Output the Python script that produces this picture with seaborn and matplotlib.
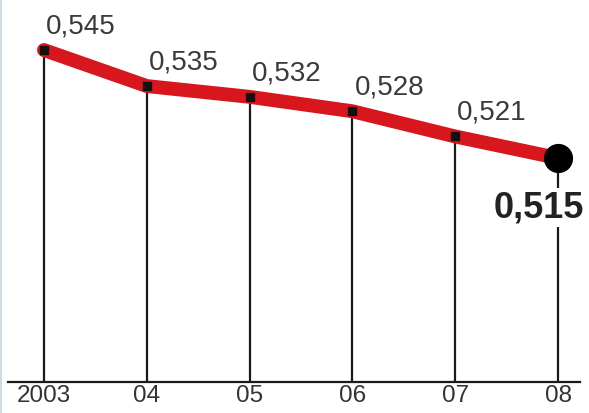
import matplotlib
matplotlib.use("Agg")
import matplotlib.pyplot as plt
import seaborn as sns
import pandas as pd
from matplotlib.lines import Line2D

years = [2003, 2004, 2005, 2006, 2007, 2008]
tick_labels = ["2003", "04", "05", "06", "07", "08"]
values = [0.545, 0.535, 0.532, 0.528, 0.521, 0.515]
value_labels = ["0,545", "0,535", "0,532", "0,528", "0,521", "0,515"]

red = "#d8161d"

sns.set_theme(style="white")
plt.rcParams['font.family'] = ['Liberation Sans', 'DejaVu Sans']

df = pd.DataFrame({"year": years, "value": values})

fig = plt.figure(figsize=(5.89, 4.13), dpi=100)
ax = fig.add_axes([8 / 589, 31 / 413, 572 / 589, 382 / 413])

ybottom = 0.4528
ax.set_xlim(2002.65, 2008.214)
ax.set_ylim(ybottom, 0.5589)

# stems down to the baseline
ax.vlines(years, ybottom, values, color="#1a1a1a", lw=1.6, zorder=1)

sns.lineplot(data=df, x="year", y="value", ax=ax, color=red, lw=10,
             solid_capstyle="round", zorder=2)

# small squares on all but the last point, a big dot on the last
ax.plot(years[:-1], values[:-1], ls="none", marker="s", ms=6,
        color="#111111", zorder=3)
ax.plot(years[-1:], values[-1:], ls="none", marker="o", ms=20,
        color="#000000", zorder=4)

for x, y, lab in zip(years[:-1], values[:-1], value_labels[:-1]):
    ax.annotate(lab, (x, y), xytext=(1.5, 12), textcoords="offset points",
                ha="left", va="baseline", fontsize=20, color="#3a3a3a",
                zorder=5)

ax.annotate(value_labels[-1], (years[-1], values[-1]), xytext=(-13.5, -42.5),
            textcoords="offset points", ha="center", va="baseline",
            fontsize=26, fontweight="bold", color="#222222", zorder=5,
            bbox=dict(boxstyle="square,pad=0.05", fc="white", ec="none"))

ax.set_xticks(years)
ax.set_xticklabels(tick_labels, fontsize=17.5, color="#333333")
ax.set_yticks([])
ax.tick_params(axis="x", length=0, pad=2)
ax.set_xlabel("")
ax.set_ylabel("")

for side in ["top", "left", "right"]:
    ax.spines[side].set_visible(False)
ax.spines["bottom"].set_color("#1a1a1a")
ax.spines["bottom"].set_linewidth(1.6)

# faint border on the left edge
fig.add_artist(Line2D([0.001, 0.001], [0, 1], transform=fig.transFigure,
                      color="#c5d3dc", lw=1.2))

fig.savefig("out.png", dpi=100)
